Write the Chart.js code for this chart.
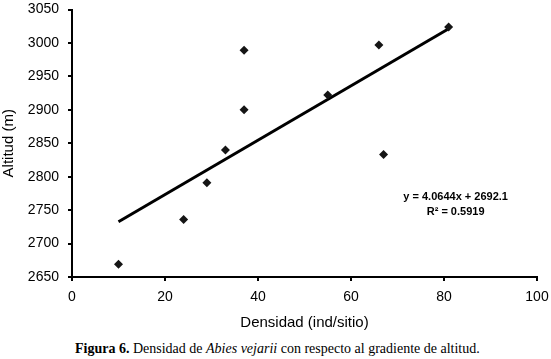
<!DOCTYPE html>
<html>
<head>
<meta charset="utf-8">
<script src="https://cdn.jsdelivr.net/npm/chart.js@4/dist/chart.umd.min.js"></script>
<style>
    html, body { margin: 0; padding: 0; background: #fff; }
    #wrap { position: relative; width: 551px; height: 336px; }
    #caption {
        position: absolute; left: 0; top: 341px; width: 551px;
        font-family: 'Liberation Serif', 'Times New Roman', serif;
        font-size: 14px; color: #000; padding-left: 75px; box-sizing: border-box;
        white-space: nowrap;
    }
</style>
</head>
<body>
<div id="wrap"><canvas id="graph_altitud"></canvas></div>
<div id="caption"><b>Figura 6.</b> Densidad de <i>Abies vejarii</i> con respecto al gradiente de altitud.</div>
<script>
// ############################## DENSIDAD vs ALTITUD ############################### //
const densidad = [10, 24, 29, 33, 37, 37, 55, 66, 67, 81];
const altitud = [2669, 2736, 2791, 2840, 2900, 2989, 2922, 2997, 2833, 3024];

// recta de regresión y = 4.0644x + 2692.1 (extremos)
const tendenciaX = [10, 81];
const tendenciaY = [2732.7, 3021.3];

const ecuacion = ['y = 4.0644x + 2692.1', 'R\u00B2 = 0.5919'];

const puntos = densidad.map((d, i) => ({x: d, y: altitud[i]}));
const recta = tendenciaX.map((d, i) => ({x: d, y: tendenciaY[i]}));

const fuente = "'Liberation Sans', Arial, sans-serif";

const textoEcuacion = {
    id: 'textoEcuacion',
    afterDatasetsDraw(chart) {
        const ctx = chart.ctx;
        const area = chart.chartArea;
        const cx = area.left + (area.right - area.left) * 0.825;
        const cy = area.top + (area.bottom - area.top) * 0.70;
        ctx.save();
        ctx.fillStyle = '#000';
        ctx.font = 'bold 11px ' + fuente;
        ctx.textAlign = 'center';
        ctx.textBaseline = 'middle';
        ctx.fillText(ecuacion[0], cx, cy);
        ctx.fillText(ecuacion[1], cx, cy + 15);
        ctx.restore();
    }
};

const ejeComun = {
    border: {display: true, color: '#000', width: 2},
    grid: {display: true, drawOnChartArea: false, drawTicks: true, tickLength: 4, color: '#000', lineWidth: 2},
    ticks: {color: '#000', font: {family: fuente, size: 14}, callback: (v) => String(v)}
};

const config = {
    type: 'scatter',
    data: {
        datasets: [{
            label: 'Densidad',
            data: puntos,
            pointStyle: 'rectRot',
            pointRadius: 4.5,
            backgroundColor: '#151515',
            borderColor: '#151515',
            borderWidth: 0
        },{
            label: 'Tendencia',
            data: recta,
            showLine: true,
            pointRadius: 0,
            borderColor: '#000',
            borderWidth: 3
        }]
    },
    options: {
        responsive: true,
        maintainAspectRatio: false,
        animation: false,
        layout: {padding: {top: 9.5, right: 14, left: 0, bottom: 0}},
        scales: {
            x: {
                ...ejeComun,
                type: 'linear',
                min: 0,
                max: 100,
                ticks: {...ejeComun.ticks, stepSize: 20, padding: 8, maxRotation: 0},
                title: {display: true, text: 'Densidad (ind/sitio)', color: '#000',
                        font: {family: fuente, size: 15}, padding: {top: 0, bottom: 4}},
                afterFit: (scale) => {
                    scale.height = 59;
                    scale.paddingLeft = 0;
                    scale.paddingRight = 0;
                }
            },
            y: {
                ...ejeComun,
                type: 'linear',
                min: 2650,
                max: 3050,
                ticks: {...ejeComun.ticks, stepSize: 50, padding: 9},
                title: {display: true, text: 'Altitud (m)', color: '#000',
                        font: {family: fuente, size: 15}, padding: {top: 0, bottom: 0}},
                afterFit: (scale) => {
                    scale.width = 72;
                    scale.paddingTop = 0;
                    scale.paddingBottom = 0;
                }
            }
        },
        plugins: {
            legend: {display: false},
            tooltip: {enabled: false}
        }
    },
    plugins: [textoEcuacion]
};

const graf = new Chart(document.getElementById('graph_altitud'), config);
// ###################################################################################### //
</script>
</body>
</html>
